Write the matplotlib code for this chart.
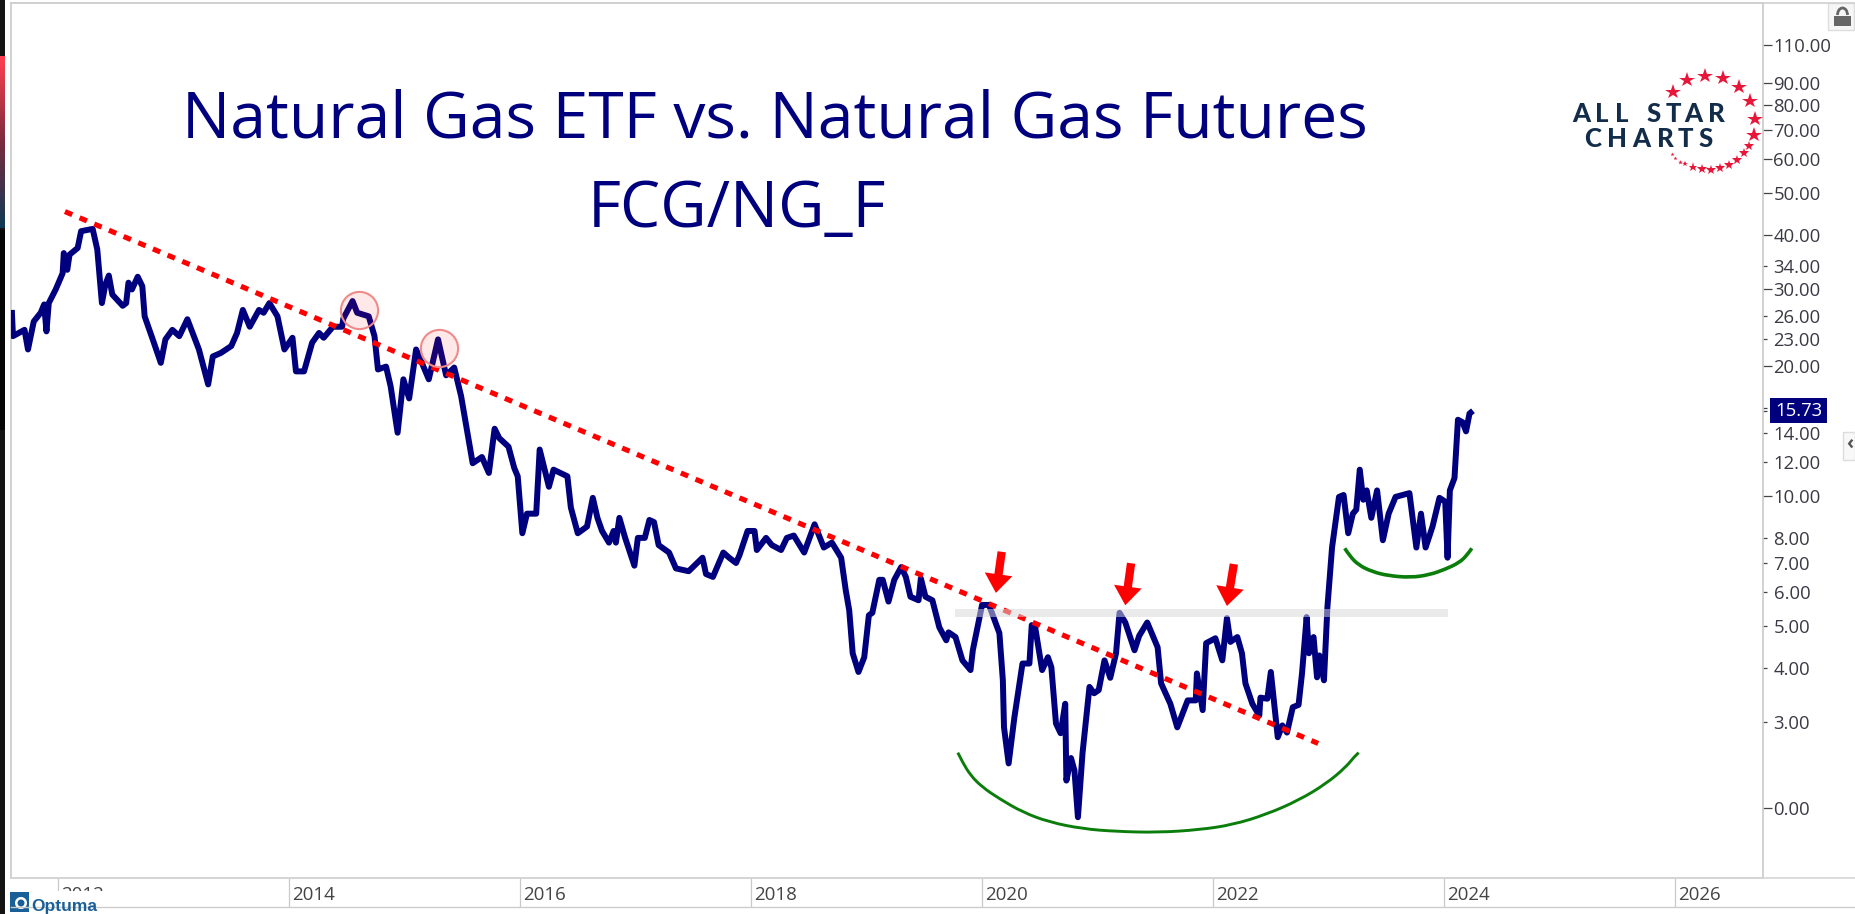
#!/usr/bin/python
#
# FCG / NG_F ratio chart, log scale, with the trendline and base marks
#
import numpy as np
import matplotlib
matplotlib.use('Agg')
import matplotlib.pyplot as plt
from matplotlib.colors import LinearSegmentedColormap
from matplotlib.patches import Rectangle, Arc, Wedge, PathPatch
from matplotlib.path import Path

W, H = 1855, 914
NAVY = '#00007f'
LOGO = '#122c4a'
STAR = '#e8173a'

years = [
    2011.60, 2011.61, 2011.66, 2011.71, 2011.74, 2011.79, 2011.85, 2011.88, 2011.90, 2011.92,
    2011.98, 2012.04, 2012.05, 2012.08, 2012.10, 2012.17, 2012.20, 2012.30, 2012.34, 2012.38,
    2012.41, 2012.44, 2012.47, 2012.56, 2012.59, 2012.61, 2012.64, 2012.69, 2012.73, 2012.75,
    2012.82, 2012.89, 2012.93, 2012.99, 2013.05, 2013.12, 2013.16, 2013.22, 2013.30, 2013.34,
    2013.41, 2013.50, 2013.55, 2013.60, 2013.66, 2013.74, 2013.78, 2013.83, 2013.90, 2013.96,
    2014.03, 2014.06, 2014.13, 2014.20, 2014.26, 2014.30, 2014.38, 2014.46, 2014.47, 2014.55,
    2014.59, 2014.69, 2014.74, 2014.77, 2014.84, 2014.88, 2014.94, 2014.99, 2015.04, 2015.10,
    2015.15, 2015.21, 2015.29, 2015.36, 2015.43, 2015.49, 2015.59, 2015.67, 2015.73, 2015.78,
    2015.82, 2015.90, 2015.95, 2015.98, 2016.02, 2016.06, 2016.14, 2016.17, 2016.25, 2016.29,
    2016.41, 2016.44, 2016.50, 2016.58, 2016.63, 2016.67, 2016.71, 2016.77, 2016.81, 2016.83,
    2016.86, 2016.91, 2016.99, 2017.02, 2017.08, 2017.12, 2017.16, 2017.20, 2017.29, 2017.35,
    2017.46, 2017.58, 2017.61, 2017.67, 2017.76, 2017.81, 2017.87, 2017.90, 2017.97, 2018.03,
    2018.05, 2018.13, 2018.18, 2018.26, 2018.31, 2018.37, 2018.46, 2018.55, 2018.63, 2018.70,
    2018.78, 2018.82, 2018.85, 2018.88, 2018.93, 2018.98, 2019.02, 2019.05, 2019.11, 2019.14,
    2019.19, 2019.24, 2019.30, 2019.34, 2019.38, 2019.45, 2019.47, 2019.51, 2019.57, 2019.63,
    2019.69, 2019.71, 2019.77, 2019.83, 2019.90, 2019.92, 2020.00, 2020.06, 2020.15, 2020.18,
    2020.19, 2020.23, 2020.28, 2020.35, 2020.41, 2020.43, 2020.46, 2020.52, 2020.57, 2020.60,
    2020.64, 2020.68, 2020.72, 2020.73, 2020.77, 2020.80, 2020.83, 2020.87, 2020.93, 2020.97,
    2021.01, 2021.06, 2021.11, 2021.16, 2021.19, 2021.24, 2021.32, 2021.36, 2021.43, 2021.52,
    2021.55, 2021.63, 2021.69, 2021.78, 2021.85, 2021.86, 2021.91, 2021.94, 2022.02, 2022.08,
    2022.12, 2022.15, 2022.21, 2022.25, 2022.28, 2022.34, 2022.40, 2022.41, 2022.47, 2022.50,
    2022.56, 2022.60, 2022.64, 2022.69, 2022.74, 2022.77, 2022.81, 2022.83, 2022.87, 2022.90,
    2022.92, 2022.96, 2022.99, 2023.03, 2023.09, 2023.13, 2023.17, 2023.21, 2023.24, 2023.27,
    2023.30, 2023.33, 2023.37, 2023.42, 2023.47, 2023.52, 2023.58, 2023.70, 2023.76, 2023.80,
    2023.84, 2023.90, 2023.96, 2024.01, 2024.03, 2024.05, 2024.09, 2024.12, 2024.16, 2024.19,
    2024.22, 2024.25,
]
ratio = [
    26.9, 23.4, 23.8, 24.2, 21.8, 25.3, 26.5, 27.7, 24.0, 27.9,
    30.0, 32.7, 36.4, 33.3, 36.1, 37.4, 40.9, 41.4, 37.1, 27.9,
    30.8, 32.3, 29.2, 27.5, 27.9, 31.1, 30.0, 32.1, 30.5, 26.0,
    23.0, 20.3, 23.0, 24.2, 23.4, 25.6, 24.0, 21.8, 18.1, 21.0,
    21.4, 22.2, 23.8, 26.9, 24.6, 26.9, 26.5, 27.9, 26.0, 21.8,
    23.2, 19.4, 19.4, 22.6, 23.8, 23.2, 24.6, 24.6, 25.7, 28.2,
    26.5, 26.0, 23.4, 19.6, 19.9, 17.9, 14.0, 18.6, 16.8, 21.8,
    20.3, 18.6, 23.0, 19.0, 19.8, 17.0, 11.9, 12.3, 11.3, 14.3,
    13.6, 13.0, 11.6, 11.1, 8.2, 9.1, 9.1, 12.8, 10.5, 11.5,
    11.1, 9.4, 8.2, 8.5, 9.9, 8.9, 8.3, 7.8, 8.3, 7.8,
    8.9, 8.0, 6.9, 8.0, 8.0, 8.8, 8.7, 7.7, 7.4, 6.8,
    6.7, 7.2, 6.6, 6.5, 7.4, 7.2, 7.0, 7.3, 8.3, 8.3,
    7.5, 8.0, 7.7, 7.5, 8.0, 8.1, 7.4, 8.6, 7.6, 7.8,
    7.2, 6.05, 5.44, 4.33, 3.92, 4.24, 5.3, 5.37, 6.4, 6.4,
    5.7, 6.4, 6.85, 6.5, 5.85, 5.74, 6.45, 5.85, 5.74, 4.97,
    4.64, 4.84, 4.72, 4.17, 3.96, 4.4, 5.6, 5.6, 4.82, 3.75,
    2.92, 2.41, 3.08, 4.1, 4.1, 5.03, 4.97, 3.96, 4.24, 4.02,
    2.98, 2.83, 3.31, 2.2, 2.48, 2.32, 1.81, 2.55, 3.62, 3.5,
    3.56, 4.17, 3.8, 4.33, 5.37, 5.1, 4.4, 4.75, 5.1, 4.47,
    3.69, 3.31, 2.92, 3.37, 3.37, 3.89, 3.2, 4.57, 4.69, 4.17,
    5.22, 4.6, 4.72, 4.33, 3.69, 3.31, 3.11, 3.42, 3.4, 3.92,
    2.77, 2.95, 2.84, 3.25, 3.29, 3.89, 5.25, 4.33, 4.72, 3.81,
    4.28, 3.75, 5.54, 7.6, 9.95, 10.05, 8.2, 9.1, 9.3, 11.5,
    9.8, 10.3, 8.9, 10.3, 7.9, 9.1, 9.95, 10.15, 7.6, 9.1,
    7.6, 8.5, 9.9, 9.7, 7.2, 10.3, 11.0, 15.0, 14.8, 14.1,
    15.5, 15.73,
]

trend_years = [2012.06, 2022.91]
trend_vals = [45.4, 2.68]

circle_years = [2014.61, 2015.30]
circle_vals = [26.9, 22.0]

band_years = [2019.77, 2024.03]
band_low, band_high = 5.25, 5.48

arrow_tops = [(2020.17, 7.43), (2021.29, 6.99), (2022.18, 6.96)]
arrow_tips = [(2020.12, 5.97), (2021.24, 5.59), (2022.12, 5.57)]

big_arc_years = [2019.79, 2019.83, 2019.90, 2020.00, 2020.15, 2020.35, 2020.58, 2020.87, 2021.16,
                 2021.52, 2021.88, 2022.17, 2022.46, 2022.74, 2022.98, 2023.15, 2023.22, 2023.26]
big_arc_vals = [2.552, 2.428, 2.262, 2.126, 1.997, 1.86, 1.764, 1.702, 1.678,
                1.669, 1.693, 1.739, 1.837, 1.98, 2.164, 2.364, 2.494, 2.552]
small_arc_years = [2023.14, 2023.18, 2023.26, 2023.38, 2023.52, 2023.71, 2023.87, 2024.01, 2024.13, 2024.20, 2024.24]
small_arc_vals = [7.57, 7.28, 6.92, 6.68, 6.54, 6.48, 6.57, 6.77, 7.01, 7.30, 7.57]

year_ticks = [2012, 2014, 2016, 2018, 2020, 2022, 2024, 2026]
long_ticks = [110, 90, 80, 70, 60, 50, 40, 30, 20, 10, 1.9]
long_labels = ['110.00', '90.00', '80.00', '70.00', '60.00', '50.00', '40.00', '30.00', '20.00', '10.00', '0.00']
short_ticks = [34, 26, 23, 16, 14, 12, 8, 7, 6, 5, 4, 3]
short_labels = ['34.00', '26.00', '23.00', '', '14.00', '12.00', '8.00', '7.00', '6.00', '5.00', '4.00', '3.00']
last_value = 15.73

# logo letters and stars, in picture pixels
logo_top = [('A', 1581.7), ('L', 1601.7), ('L', 1621.7), ('S', 1653.7), ('T', 1673.3), ('A', 1693.3), ('R', 1716)]
logo_bottom = [('C', 1592.7), ('H', 1617), ('A', 1641.7), ('R', 1665.7), ('T', 1685.7), ('S', 1705.7)]
big_stars = [(1672.7, 91.7), (1687.3, 80), (1704.7, 75.7), (1723, 78.3), (1738.7, 87), (1750, 101.3), (1755, 119), (1753.7, 135)]
small_stars = [(1749, 146, 7.5), (1743.7, 153.3, 7.5), (1737, 159.7, 7), (1729, 164.7, 7), (1720.3, 168, 7),
               (1711.3, 169.7, 7), (1702, 169.3, 7), (1692.7, 167, 6.5), (1685.3, 164.3, 4), (1680, 161.7, 3.5),
               (1675.3, 157.7, 3), (1671.7, 153.7, 3)]


def smooth_curve(xs, ys):
    # quadratic spline with the read points as control points, midpoints taken on the log scale
    verts = [(xs[0], ys[0])]
    codes = [Path.MOVETO]
    for i in range(1, len(xs) - 1):
        verts.append((xs[i], ys[i]))
        codes.append(Path.CURVE3)
        if i < len(xs) - 2:
            verts.append(((xs[i] + xs[i + 1]) / 2, (ys[i] * ys[i + 1]) ** 0.5))
        else:
            verts.append((xs[-1], ys[-1]))
        codes.append(Path.CURVE3)
    return Path(verts, codes)


plt.rcParams['font.family'] = ['Open Sans', 'DejaVu Sans']

fig = plt.figure(figsize=(W / 100, H / 100), dpi=100)
ax = fig.add_axes([11 / W, 1 - 878 / H, (1763 - 11) / W, (878 - 3) / H])

ax.set_yscale('log')
ax.plot(years, ratio, color=NAVY, lw=4.3, solid_joinstyle='round', solid_capstyle='butt', zorder=3)
ax.plot(trend_years, trend_vals, color='#ff0000', lw=3.7, dashes=(1.55, 1.55), dash_capstyle='butt', zorder=4)
ax.plot(circle_years, circle_vals, 'o', ms=26.8, mfc=(1, 0, 0, 0.09), mec='#f08a8a', mew=1.5, zorder=5)
ax.fill_between(band_years, band_low, band_high, color='#d7d7d7', alpha=0.52, lw=0, zorder=6)
ax.add_patch(PathPatch(smooth_curve(big_arc_years, big_arc_vals), fc='none', ec='#0a7d0a', lw=2.1, zorder=3))
ax.add_patch(PathPatch(smooth_curve(small_arc_years, small_arc_vals), fc='none', ec='#0a7d0a', lw=2.6, zorder=3))
for top, tip in zip(arrow_tops, arrow_tips):
    ax.annotate('', xy=tip, xytext=top, zorder=7,
                arrowprops=dict(arrowstyle='simple,head_length=1.35,head_width=2.0,tail_width=0.6',
                                color='#ff0000', lw=0, shrinkA=0, shrinkB=0, mutation_scale=10))

ax.set_xlim(2011.593, 2026.761)
ax.set_ylim(1.31, 137.7)

for side in ('top', 'left', 'right', 'bottom'):
    ax.spines[side].set_color('#c9c9c9')
    ax.spines[side].set_linewidth(1.2)

ax.yaxis.tick_right()
ax.set_yticks(long_ticks, labels=long_labels)
ax.set_yticks(short_ticks + [last_value], labels=short_labels + [''], minor=True)
ax.tick_params(axis='y', which='major', length=6.5, width=0.9, color='#444444', labelsize=13.3, labelcolor='#3a3a44', pad=1)
ax.tick_params(axis='y', which='minor', length=3.2, width=0.9, color='#444444', labelsize=13.3, labelcolor='#3a3a44', pad=4.4)
ax.set_xticks(year_ticks, labels=[''] * len(year_ticks))
ax.xaxis.set_minor_locator(matplotlib.ticker.NullLocator())
ax.tick_params(axis='x', length=21, width=0.9, color='#c9c9c9', pad=0)
for yr in year_ticks:
    ax.annotate(str(yr), xy=(yr, 0), xycoords=ax.get_xaxis_transform(), xytext=(2.5, -12),
                textcoords='offset points', fontsize=13.5, color='#444444', va='center', ha='left')

# everything that is not chart: overlay in picture pixels
ov = fig.add_axes([0, 0, 1, 1], zorder=10)
ov.set_xlim(0, W)
ov.set_ylim(H, 0)
ov.axis('off')
ov.patch.set_alpha(0)

# price tag
ov.add_patch(Rectangle((1770, 398), 57, 25, fc=NAVY, ec='none'))
ov.text(1798.5, 410.5, '%.2f' % last_value, color='white', fontsize=13.3, ha='center', va='center')

# title
ov.text(775, 137, 'Natural Gas ETF vs. Natural Gas Futures', color=NAVY, fontsize=46.2, ha='center', va='baseline')
ov.text(737, 227, 'FCG/NG_F', color=NAVY, fontsize=46, ha='center', va='baseline')

# logo
for ch, x in logo_top:
    ov.text(x, 122, ch, color=LOGO, fontsize=18.5, fontfamily='Lato', fontweight='black', ha='center', va='baseline')
for ch, x in logo_bottom:
    ov.text(x, 147, ch, color=LOGO, fontsize=18.5, fontfamily='Lato', fontweight='black', ha='center', va='baseline')
ov.plot([p[0] for p in big_stars], [p[1] for p in big_stars], '*', color=STAR, ms=11.5, mew=0)
for x, y, size in small_stars:
    ov.plot([x], [y], '*', color=STAR, ms=size, mew=0)

# bottom date strip and frame
ov.plot([11, W], [907, 907], color='#cccccc', lw=1)
ov.plot([11, W], [878, 878], color='#d6d6d6', lw=1.2)
ov.plot([11, W], [2.5, 2.5], color='#d0d0d0', lw=1.2)

# Optuma badge, it hides most of the 2012 label
ov.add_patch(Rectangle((0, 891), 108, 23, fc='white', ec='none'))
ov.add_patch(Rectangle((10, 892), 19, 20, fc='#1b5f99', ec='none'))
ov.add_patch(Wedge((21, 903), 6, 0, 360, width=2.5, fc='white', ec='none'))
ov.text(31, 911, 'Optuma', color='#1b5f99', fontsize=12.5, fontfamily='Liberation Sans', fontweight='bold', ha='left', va='baseline')

# lock button and side handle
ov.add_patch(Rectangle((1828, 3), 26, 27, fc='#f6f6f6', ec='#dddddd', lw=1))
ov.add_patch(Rectangle((1834, 16), 17, 10, fc='#666666', ec='none'))
ov.add_patch(Arc((1842.5, 15), 10, 14, theta1=180, theta2=360, ec='#666666', lw=2))
ov.add_patch(Rectangle((1843, 432), 12, 28, fc='#f8f8f8', ec='#dddddd', lw=1))
ov.text(1849.5, 445, '\u2039', color='#555555', fontsize=14, ha='center', va='center', fontweight='bold')

# left edge of the screenshot
ov.add_patch(Rectangle((0, 0), 5, H, fc='#141414', ec='none'))
ov.add_patch(Rectangle((0, 230), 5, 200, fc='#050505', ec='none'))
edge = LinearSegmentedColormap.from_list('edge', ['#ff4050', '#7a2a3e', '#0f3a55'])
ov.imshow(np.linspace(0, 1, 100).reshape(-1, 1), extent=(0, 5, 228, 56), cmap=edge, aspect='auto', zorder=2)
ov.set_xlim(0, W)
ov.set_ylim(H, 0)

plt.savefig('out.png', dpi=100)
